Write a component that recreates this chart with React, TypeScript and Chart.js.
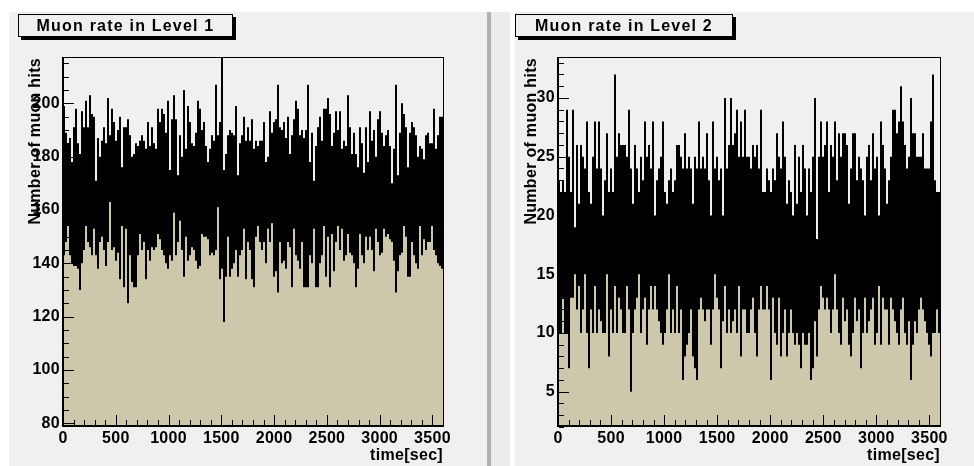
import React, { useEffect, useRef } from 'react';
import { Chart, registerables } from 'chart.js';

Chart.register(...registerables);

const FONT_FAMILY = '"Liberation Sans", Arial, Helvetica, sans-serif';
const TAN = 'rgb(205,200,172)';
const PANEL_BG = '#f0f0f0';

// time axis (seconds)
const X_TICKS = [0, 500, 1000, 1500, 2000, 2500, 3000, 3500];
const X_MINOR_STEP = 100;
const X_MAX = 3600;

// Level 1 panel: per-column (≈19 s) minimum and maximum bin content
const L1_Y_TICKS = [80, 100, 120, 140, 160, 180, 200];
const L1_Y_MINOR = 5;
const L1_Y_MIN = 78.6;
const L1_Y_MAX = 217;

const L1_HI = [
  199, 189, 185, 187, 178, 191, 198, 185, 181, 197,
  191, 201, 191, 203, 196, 195, 171, 187, 180, 186,
  191, 185, 202, 188, 198, 193, 186, 190, 195, 176,
  191, 191, 194, 188, 180, 181, 185, 184, 186, 188,
  186, 183, 193, 184, 191, 185, 183, 198, 193, 198,
  196, 189, 201, 175, 194, 203, 194, 173, 188, 180,
  205, 183, 199, 193, 185, 184, 189, 201, 198, 190,
  193, 184, 178, 183, 188, 186, 207, 188, 193, 220,
  175, 181, 188, 190, 189, 188, 199, 173, 185, 188,
  195, 186, 191, 186, 194, 183, 186, 184, 186, 186,
  193, 178, 180, 197, 189, 193, 194, 207, 191, 190,
  193, 187, 195, 181, 188, 194, 201, 198, 188, 190,
  187, 190, 207, 178, 189, 171, 184, 191, 195, 186,
  198, 198, 202, 196, 184, 189, 197, 190, 197, 183,
  186, 184, 203, 191, 181, 189, 181, 176, 191, 185,
  174, 191, 178, 197, 186, 190, 180, 194, 197, 189,
  184, 188, 190, 184, 170, 183, 207, 173, 189, 200,
  196, 191, 176, 189, 193, 191, 188, 180, 184, 183,
  179, 188, 189, 185, 185, 198, 183, 188, 195, 195,
];

const L1_LO = [
  143, 148, 154, 143, 140, 139, 139, 138, 130, 140,
  145, 154, 148, 146, 143, 153, 143, 138, 148, 150,
  145, 139, 148, 163, 145, 146, 141, 144, 134, 154,
  131, 153, 125, 143, 133, 131, 131, 143, 151, 145,
  148, 134, 145, 141, 146, 145, 146, 151, 149, 145,
  143, 140, 138, 143, 141, 159, 143, 148, 156, 145,
  135, 150, 141, 143, 146, 145, 141, 138, 139, 151,
  150, 150, 149, 143, 144, 143, 145, 161, 134, 138,
  118, 135, 150, 135, 138, 140, 145, 135, 143, 145,
  153, 134, 148, 145, 134, 131, 150, 154, 148, 145,
  148, 140, 153, 148, 155, 135, 137, 129, 148, 140,
  141, 138, 148, 146, 131, 153, 143, 141, 138, 148,
  131, 131, 131, 143, 140, 153, 131, 131, 140, 143,
  154, 135, 150, 131, 151, 137, 148, 154, 145, 153,
  141, 143, 151, 144, 143, 140, 131, 138, 151, 143,
  140, 150, 145, 150, 145, 137, 153, 148, 143, 144,
  153, 150, 151, 149, 148, 141, 129, 137, 143, 144,
  154, 150, 135, 135, 148, 143, 140, 138, 154, 143,
  149, 145, 148, 148, 154, 145, 143, 140, 139, 138,
];

// Level 2 panel
const L2_Y_TICKS = [5, 10, 15, 20, 25, 30];
const L2_Y_MINOR = 1;
const L2_Y_MIN = 2.0;
const L2_Y_MAX = 33.4;

const L2_HI = [
  23, 22, 23, 22, 29, 25, 22, 29, 19, 26,
  21, 26, 25, 24, 28, 22, 21, 25, 28, 24,
  28, 24, 20, 23, 27, 22, 24, 22, 32, 25,
  27, 26, 26, 26, 25, 29, 24, 21, 26, 24,
  22, 25, 23, 28, 25, 26, 24, 28, 20, 23,
  24, 25, 28, 22, 21, 23, 24, 22, 23, 26,
  26, 25, 24, 27, 24, 25, 24, 21, 25, 24,
  28, 24, 25, 24, 27, 23, 20, 28, 24, 25,
  23, 24, 20, 30, 24, 26, 30, 26, 27, 29,
  25, 28, 25, 29, 25, 25, 24, 26, 25, 26,
  24, 29, 22, 22, 24, 23, 22, 24, 23, 27,
  25, 24, 28, 25, 21, 23, 22, 20, 26, 21,
  25, 22, 26, 24, 20, 24, 22, 25, 30, 18,
  25, 28, 25, 26, 28, 22, 26, 25, 28, 23,
  27, 25, 27, 27, 26, 21, 24, 27, 27, 23,
  25, 24, 23, 20, 25, 26, 23, 27, 24, 25,
  20, 28, 26, 24, 21, 23, 25, 29, 29, 27,
  28, 31, 28, 26, 24, 25, 30, 27, 27, 25,
  25, 25, 27, 24, 24, 24, 28, 32, 23, 22,
  22,
];

const L2_LO = [
  10, 10, 13, 10, 10, 7, 13, 13, 15, 12,
  14, 10, 12, 15, 10, 7, 12, 10, 14, 10,
  12, 11, 10, 10, 15, 8, 12, 10, 14, 10,
  13, 12, 10, 10, 14, 12, 5, 10, 12, 13,
  15, 10, 12, 13, 9, 12, 14, 12, 14, 12,
  11, 10, 9, 10, 12, 15, 10, 12, 10, 14,
  10, 12, 6, 8, 9, 10, 12, 8, 7, 6,
  12, 13, 12, 11, 12, 12, 9, 12, 15, 13,
  12, 7, 11, 14, 10, 12, 10, 11, 12, 10,
  14, 8, 12, 12, 10, 10, 12, 13, 10, 8,
  12, 14, 12, 12, 14, 12, 6, 13, 10, 9,
  13, 8, 10, 12, 8, 10, 12, 10, 9, 10,
  9, 7, 10, 9, 9, 10, 6, 7, 11, 8,
  12, 14, 13, 12, 13, 12, 10, 12, 15, 12,
  10, 9, 13, 11, 12, 9, 8, 10, 13, 11,
  12, 7, 10, 13, 10, 11, 12, 13, 9, 10,
  14, 9, 13, 12, 12, 9, 13, 12, 11, 10,
  9, 12, 13, 10, 9, 11, 6, 9, 11, 10,
  12, 13, 12, 11, 10, 9, 8, 10, 10, 12,
  10,
];

const TITLES = ['Muon rate in Level 1', 'Muon rate in Level 2'];
const X_TITLE = 'time[sec]';
const Y_TITLE = 'Number of muon hits';

function makeFramePlugin(yMajor: number[], yMinorStep: number, yMin: number, yMax: number) {
  return {
    id: 'rootFrame',
    beforeDraw(chart: any) {
      try {
        chart.ctx.letterSpacing = '0.3px';
      } catch (e) {
        /* ignore */
      }
    },
    afterDatasetsDraw(chart: any) {
      const { ctx, chartArea: a } = chart;
      const ys = chart.scales.y;
      const xs = chart.scales.xt;
      const L = Math.round(a.left);
      const R = Math.round(a.right);
      const T = Math.round(a.top);
      const B = Math.round(a.bottom);
      ctx.save();
      ctx.fillStyle = '#000';
      ctx.fillRect(L - 1, T - 1, R - L + 2, 1);
      ctx.fillRect(R, T - 1, 1, B - T + 1);
      ctx.fillRect(L - 1, T - 1, 2, B - T + 1);
      ctx.fillRect(L - 1, B - 2, R - L + 2, 2);
      const first = Math.ceil(yMin / yMinorStep) * yMinorStep;
      for (let v = first; v <= yMax; v += yMinorStep) {
        const p = Math.round(ys.getPixelForValue(v));
        const len = yMajor.includes(v) ? 10 : 5;
        ctx.fillRect(L + 1, p, len, 1);
      }
      for (let v = 0; v <= X_MAX; v += X_MINOR_STEP) {
        const p = Math.round(xs.getPixelForValue(v));
        const len = X_TICKS.includes(v) ? 10 : 5;
        ctx.fillRect(p, B - 2 - len, 1, len);
      }
      ctx.restore();
    },
  };
}

type PanelProps = {
  lo: number[];
  hi: number[];
  yMin: number;
  yMax: number;
  yTicks: number[];
  yMinor: number;
  left: number;
  width: number;
  axisWidth: number;
  padRight: number;
  titlePad: number;
};

function HistPanel(p: PanelProps) {
  const ref = useRef<HTMLCanvasElement>(null);
  useEffect(() => {
    const font = { family: FONT_FAMILY, size: 16, weight: 'bold' as const };
    const labels = p.lo.map((_, i) => String(i));
    const common = {
      borderWidth: 0,
      grouped: false,
      barPercentage: 1,
      categoryPercentage: 1,
      inflateAmount: 0,
      xAxisID: 'x',
      yAxisID: 'y',
    };
    const chart = new Chart(ref.current as HTMLCanvasElement, {
      type: 'bar',
      data: {
        labels,
        datasets: [
          { ...common, data: p.lo.map((l, i) => [l, p.hi[i]]), backgroundColor: '#000' } as any,
          { ...common, data: p.lo, backgroundColor: TAN } as any,
        ],
      },
      options: {
        responsive: false,
        maintainAspectRatio: false,
        animation: false,
        events: [],
        layout: { padding: { left: 0, top: 58, right: p.padRight, bottom: 0 } },
        plugins: { legend: { display: false }, tooltip: { enabled: false }, title: { display: false } },
        scales: {
          x: { type: 'category', display: false, offset: true },
          xt: {
            type: 'linear',
            position: 'bottom',
            offset: false,
            min: 0,
            max: X_MAX,
            afterBuildTicks: (s: any) => {
              s.ticks = X_TICKS.map((v) => ({ value: v }));
            },
            afterFit: (s: any) => {
              s.height = 39;
            },
            grid: { display: false, drawTicks: false, offset: false },
            border: { display: false },
            ticks: {
              font,
              color: '#000',
              padding: 2,
              maxRotation: 0,
              autoSkip: false,
              callback: (v: any) => String(v),
            },
            title: {
              display: true,
              text: X_TITLE,
              align: 'end',
              color: '#000',
              font,
              padding: { top: 0, bottom: 1 },
            },
          },
          y: {
            type: 'linear',
            min: p.yMin,
            max: p.yMax,
            afterBuildTicks: (s: any) => {
              s.ticks = p.yTicks.map((v) => ({ value: v }));
            },
            afterFit: (s: any) => {
              s.width = p.axisWidth;
            },
            grid: { display: false, drawTicks: false },
            border: { display: false },
            ticks: {
              font,
              color: '#000',
              padding: 3,
              autoSkip: false,
              callback: (v: any) => String(v),
            },
            title: {
              display: true,
              text: Y_TITLE,
              align: 'end',
              color: '#000',
              font,
              padding: { top: p.titlePad, bottom: 0 },
            },
          },
        } as any,
      },
      plugins: [makeFramePlugin(p.yTicks, p.yMinor, p.yMin, p.yMax)],
    });
    return () => chart.destroy();
  }, []);
  return (
    <canvas
      ref={ref}
      width={p.width}
      height={466}
      style={{ position: 'absolute', left: p.left, top: 0, width: p.width, height: 466 }}
    />
  );
}

function TitleBox({ left, width, text }: { left: number; width: number; text: string }) {
  return (
    <div
      style={{
        position: 'absolute',
        left,
        top: 14,
        width,
        height: 23,
        boxSizing: 'border-box',
        border: '1px solid #000',
        boxShadow: '3px 3px 0 #000',
        background: PANEL_BG,
        fontFamily: FONT_FAMILY,
        fontWeight: 'bold',
        fontSize: 16,
        letterSpacing: '1.2px',
        lineHeight: '21px',
        textAlign: 'center',
        color: '#000',
        whiteSpace: 'nowrap',
      }}
    >
      {text}
    </div>
  );
}

export default function App() {
  return (
    <div
      style={{
        position: 'fixed',
        left: 0,
        top: 0,
        width: 974,
        height: 466,
        background: '#fff',
        overflow: 'hidden',
      }}
    >
      <div style={{ position: 'absolute', left: 9, top: 12, width: 478, height: 454, background: PANEL_BG }} />
      <div style={{ position: 'absolute', left: 487, top: 12, width: 4, height: 454, background: '#b0b0b0' }} />
      <div style={{ position: 'absolute', left: 491, top: 12, width: 19, height: 454, background: '#ececec' }} />
      <div style={{ position: 'absolute', left: 515, top: 12, width: 459, height: 454, background: PANEL_BG }} />
      <HistPanel
        lo={L1_LO}
        hi={L1_HI}
        yMin={L1_Y_MIN}
        yMax={L1_Y_MAX}
        yTicks={L1_Y_TICKS}
        yMinor={L1_Y_MINOR}
        left={0}
        width={487}
        axisWidth={63}
        padRight={44}
        titlePad={26}
      />
      <HistPanel
        lo={L2_LO}
        hi={L2_HI}
        yMin={L2_Y_MIN}
        yMax={L2_Y_MAX}
        yTicks={L2_Y_TICKS}
        yMinor={L2_Y_MINOR}
        left={487}
        width={487}
        axisWidth={71}
        padRight={34}
        titlePad={35}
      />
      <TitleBox left={18} width={215} text={TITLES[0]} />
      <TitleBox left={515} width={218} text={TITLES[1]} />
    </div>
  );
}
